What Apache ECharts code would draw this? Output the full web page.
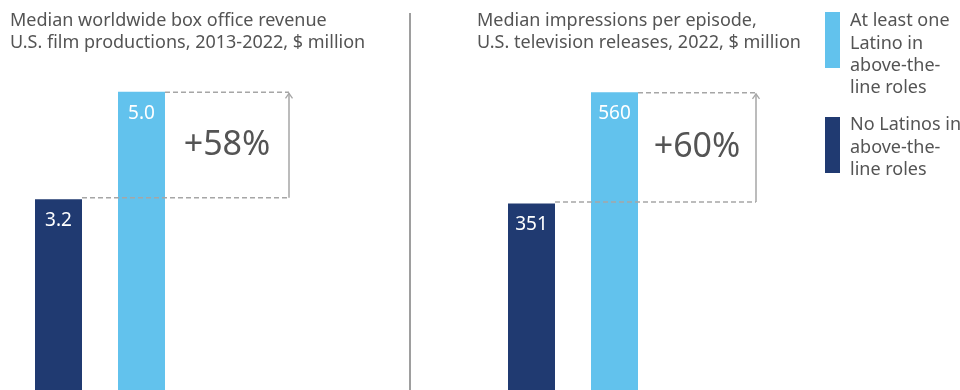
<!DOCTYPE html>
<html>
<head>
<meta charset="utf-8">
<script src="https://cdn.jsdelivr.net/npm/echarts@6/dist/echarts.min.js"></script>
<style>
  html, body { margin: 0; padding: 0; background: #ffffff; }
  #chart { width: 960px; height: 390px; }
</style>
</head>
<body>
<div id="chart"></div>
<script>
// Category order inside each panel: no Latinos first, at least one Latino second
const categories = ['No Latinos in above-the-line roles', 'At least one Latino in above-the-line roles'];

// Median worldwide box office revenue, U.S. film productions 2013-2022 ($ million)
const filmValues = [3.2, 5.0];
// Median impressions per episode, U.S. television releases 2022
const tvValues = [351, 560];

// Relative uplift printed beside each pair of bars
const changeLabels = ['+58%', '+60%'];

const panelTitles = [
  'Median worldwide box office revenue\nU.S. film productions, 2013-2022, $ million',
  'Median impressions per episode,\nU.S. television releases, 2022, $ million'
];

const legendLabels = ['At least one\nLatino in\nabove-the-\nline roles', 'No Latinos in\nabove-the-\nline roles'];

const DARK = '#203a71';
const LIGHT = '#62c2ed';
const GREY_TEXT = '#545454';
const GUIDE = '#a6a6a6';
const FONT = '"Noto Sans", "Open Sans", sans-serif';
const BAR_W = 47;

function barSeries(gridIdx, values, fmt) {
  return {
    type: 'bar',
    xAxisIndex: gridIdx,
    yAxisIndex: gridIdx,
    barWidth: BAR_W,
    silent: true,
    data: values.map((v, i) => ({
      value: v,
      itemStyle: { color: i === 0 ? DARK : LIGHT }
    })),
    label: {
      show: true,
      position: 'insideTop',
      distance: 12,
      color: '#ffffff',
      fontFamily: FONT,
      fontSize: 19,
      formatter: p => fmt(p.value)
    }
  };
}

// Dashed guides from both bar tops, an arrow joining them and the uplift text
function upliftSeries(gridIdx, values, text, arrowGap) {
  return {
    type: 'custom',
    xAxisIndex: gridIdx,
    yAxisIndex: gridIdx,
    silent: true,
    clip: false,
    z: 5,
    data: [[0, values[0], values[1]]],
    encode: { x: 0, y: [1, 2] },
    renderItem: function (params, api) {
      const low = api.coord([0, api.value(1)]);
      const high = api.coord([1, api.value(2)]);
      const half = BAR_W / 2;
      const darkRight = low[0] + half;
      const lightRight = high[0] + half;
      const arrowX = lightRight + arrowGap;
      const yLow = low[1] - 1.5;
      const yHigh = high[1] + 0.5;
      const dash = { stroke: GUIDE, lineWidth: 1.5, lineDash: [5, 3], fill: null };
      return {
        type: 'group',
        children: [
          { type: 'line', shape: { x1: darkRight, y1: yLow, x2: arrowX, y2: yLow }, style: dash },
          { type: 'line', shape: { x1: lightRight, y1: yHigh, x2: arrowX, y2: yHigh }, style: dash },
          { type: 'line', shape: { x1: arrowX, y1: yLow, x2: arrowX, y2: yHigh + 1 },
            style: { stroke: GUIDE, lineWidth: 1.5 } },
          { type: 'polyline', shape: { points: [[arrowX - 3.5, yHigh + 6], [arrowX, yHigh + 1], [arrowX + 3.5, yHigh + 6]] },
            style: { stroke: GUIDE, lineWidth: 1.3, fill: null } },
          { type: 'text',
            style: {
              x: (lightRight + arrowX) / 2,
              y: (yLow + yHigh) / 2,
              text: text,
              align: 'center',
              verticalAlign: 'middle',
              fill: GREY_TEXT,
              font: '34px ' + FONT
            } }
        ]
      };
    }
  };
}

const chart = echarts.init(document.getElementById('chart'), null, { renderer: 'canvas' });

const hiddenCat = (gridIdx) => ({
  type: 'category',
  gridIndex: gridIdx,
  data: categories,
  axisLine: { show: false },
  axisTick: { show: false },
  axisLabel: { show: false }
});

const hiddenVal = (gridIdx, max) => ({
  type: 'value',
  gridIndex: gridIdx,
  min: 0,
  max: max,
  splitLine: { show: false },
  axisLine: { show: false },
  axisTick: { show: false },
  axisLabel: { show: false }
});

chart.setOption({
  animation: false,
  backgroundColor: '#ffffff',
  grid: [
    { left: 17, top: 62, width: 166, height: 339 },
    { left: 490, top: 71, width: 166, height: 325 }
  ],
  xAxis: [hiddenCat(0), hiddenCat(1)],
  yAxis: [hiddenVal(0, 5.5), hiddenVal(1, 600)],
  series: [
    barSeries(0, filmValues, v => v.toFixed(1)),
    barSeries(1, tvValues, v => String(v)),
    upliftSeries(0, filmValues, changeLabels[0], 124),
    upliftSeries(1, tvValues, changeLabels[1], 118)
  ],
  graphic: [
    // panel titles
    { type: 'text', left: 10, top: 10,
      style: { text: panelTitles[0], fill: GREY_TEXT, font: '18px ' + FONT, lineHeight: 22 } },
    { type: 'text', left: 477, top: 10,
      style: { text: panelTitles[1], fill: GREY_TEXT, font: '18px ' + FONT, lineHeight: 22 } },
    // divider between the two panels
    { type: 'line', shape: { x1: 410, y1: 13, x2: 410, y2: 390 },
      style: { stroke: '#9e9e9e', lineWidth: 2 } },
    // legend
    { type: 'rect', shape: { x: 825, y: 12, width: 15, height: 56 }, style: { fill: LIGHT } },
    { type: 'text', left: 850, top: 10,
      style: { text: legendLabels[0], fill: GREY_TEXT, font: '18px ' + FONT, lineHeight: 22.3 } },
    { type: 'rect', shape: { x: 825, y: 117, width: 15, height: 56 }, style: { fill: DARK } },
    { type: 'text', left: 850, top: 114,
      style: { text: legendLabels[1], fill: GREY_TEXT, font: '18px ' + FONT, lineHeight: 22.3 } }
  ]
});
</script>
</body>
</html>
